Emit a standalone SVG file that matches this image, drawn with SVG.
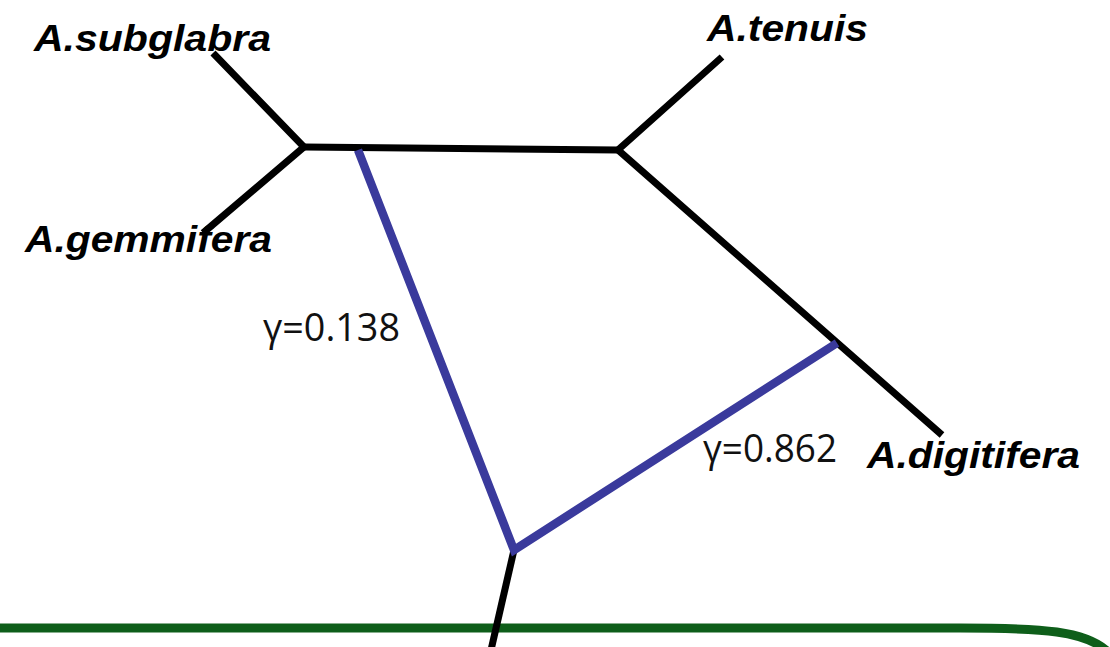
<svg xmlns="http://www.w3.org/2000/svg" width="1110" height="647" viewBox="0 0 1110 647">
<style>
.tree{fill:none;stroke:#000;stroke-width:7;stroke-linecap:butt;stroke-linejoin:miter}
.hyb{fill:none;stroke:#3a3a9c;stroke-width:8.5;stroke-linejoin:miter}
.taxon{font-family:"Liberation Sans",Arial,sans-serif;font-weight:bold;font-style:italic;font-size:36px;fill:#000}
.gamma{font-family:"Open Sans","Noto Sans",sans-serif;font-size:38px;fill:#111}
</style>
<rect width="1110" height="647" fill="#fff"/>
<g id="frame">
<path d="M -10 628 H 960 C 1040 628 1088 630 1110 654" fill="none" stroke="#0e5e1a" stroke-width="9"/>
</g>
<g id="connectors">
<polyline class="tree" points="213,53 304,147 203,233"/>
<polyline class="tree" points="304,147 618,150"/>
<polyline class="tree" points="722,57 618,150 942,435"/>
<polyline class="tree" points="514,550 491,650"/>
<polyline class="hyb" points="358,150 514,550 837,343"/>
</g>
<g id="n-subglabra"><text class="taxon" x="34" y="51" textLength="237" lengthAdjust="spacingAndGlyphs">A.subglabra</text></g>
<g id="n-gemmifera"><text class="taxon" x="25" y="252" textLength="247" lengthAdjust="spacingAndGlyphs">A.gemmifera</text></g>
<g id="n-tenuis"><text class="taxon" x="707" y="41" textLength="161" lengthAdjust="spacingAndGlyphs">A.tenuis</text></g>
<g id="n-digitifera"><text class="taxon" x="867" y="468" textLength="213" lengthAdjust="spacingAndGlyphs">A.digitifera</text></g>
<g id="g1"><text class="gamma" x="263" y="341" textLength="137" lengthAdjust="spacingAndGlyphs">γ=0.138</text></g>
<g id="g2"><text class="gamma" x="703" y="462" textLength="134" lengthAdjust="spacingAndGlyphs">γ=0.862</text></g>
</svg>
